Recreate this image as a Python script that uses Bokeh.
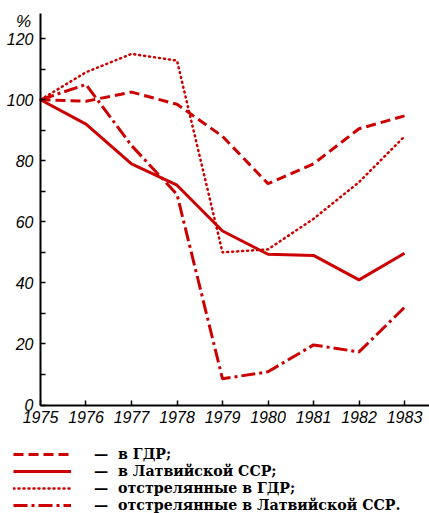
from bokeh.plotting import figure
from bokeh.models import Range1d, FixedTicker, Label, Legend, LegendItem, LinearAxis
from bokeh.embed import file_html
from bokeh.resources import INLINE

years = [1975, 1976, 1977, 1978, 1979, 1980, 1981, 1982, 1983]
gdr = [100, 99.5, 102.5, 98.5, 88, 72.5, 79, 90.5, 94.7]
latvia = [100, 92, 79, 72, 57, 49.4, 49, 41, 49.7]
gdr_hunted = [100, 109, 115, 112.8, 50, 51, 61, 73, 88]
latvia_hunted = [100, 105, 85, 69, 8.6, 10.9, 19.7, 17.4, 32]

y_labels = [0, 20, 40, 60, 80, 100, 120]
y_minor = [10, 30, 50, 70, 90, 110]

legend_texts = [
    "—  в ГДР;",
    "—  в Латвийской ССР;",
    "—  отстрелянные в ГДР;",
    "—  отстрелянные в Латвийской ССР.",
]

RED = "#cc0000"
TICK_FONT = "'Liberation Sans', sans-serif"

# frame covers the whole figure; axes are pinned at 1975 / 0
p = figure(width=429, height=513, output_backend="svg", toolbar_location=None,
           x_range=Range1d(1974.121, 1983.549), y_range=Range1d(-35.51, 132.49),
           x_axis_location=None, y_axis_location=None,
           min_border_left=0, min_border_right=0, min_border_top=0, min_border_bottom=0)
p.outline_line_color = None
p.grid.visible = False

xax = LinearAxis(fixed_location=0, bounds=(1975, 1983.549),
                 ticker=FixedTicker(ticks=years, minor_ticks=[]))
yax = LinearAxis(fixed_location=1975, bounds=(0, 128.3),
                 ticker=FixedTicker(ticks=y_labels, minor_ticks=y_minor))
for ax in (xax, yax):
    ax.axis_line_width = 2
    ax.axis_line_color = "black"
    ax.major_tick_in = 5
    ax.major_tick_out = 0
    ax.minor_tick_in = 5
    ax.minor_tick_out = 0
    ax.major_tick_line_width = 1.5
    ax.minor_tick_line_width = 1.5
    ax.major_label_text_font = TICK_FONT
    ax.major_label_text_font_style = "italic"
    ax.major_label_text_font_size = "16px"
    ax.major_label_text_color = "black"
xax.major_label_standoff = 6
yax.major_label_standoff = 7
p.add_layout(xax, "below")
p.add_layout(yax, "left")

r1 = p.line(years, gdr, line_color=RED, line_width=3, line_dash="10 5")
r2 = p.line(years, latvia, line_color=RED, line_width=3)
r3 = p.line(years, gdr_hunted, line_color=RED, line_width=2.5, line_dash="1 4", line_cap="round")
r4 = p.line(years, latvia_hunted, line_color=RED, line_width=3, line_dash="14 4 3 4")

p.add_layout(Label(x=1975, y=125.5, x_offset=-17, text="%", text_align="center",
                   text_baseline="middle", text_font=TICK_FONT, text_font_style="italic",
                   text_font_size="17px", text_color="black"))

legend = Legend(items=[LegendItem(label=t, renderers=[r]) for t, r in
                       zip(legend_texts, [r1, r2, r3, r4])],
                location=(13, 0), orientation="vertical",
                glyph_width=58, glyph_height=16, label_height=17, label_standoff=23,
                spacing=0, padding=0, margin=0,
                label_text_font="'DejaVu Serif', serif", label_text_font_style="bold",
                label_text_font_size="14.2px", label_text_color="black",
                border_line_color=None, background_fill_alpha=0)
p.add_layout(legend, "center")

open("out.html", "w").write(file_html(p, INLINE))
